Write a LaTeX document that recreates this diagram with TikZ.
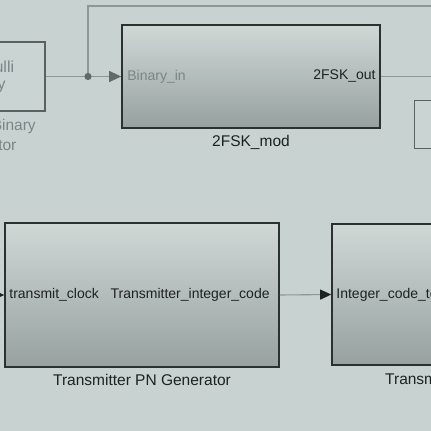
\documentclass[tikz,border=0pt]{standalone}
\usepackage{fontspec}
\setmainfont{Liberation Sans}
\usetikzlibrary{arrows.meta}
\definecolor{bg}{HTML}{C8D2D0}
\definecolor{wire}{HTML}{8C9896}
\definecolor{edge}{HTML}{2B3131}
\definecolor{faded}{HTML}{7A8685}
\definecolor{ink}{HTML}{1E2222}
\definecolor{shtop}{HTML}{D0D8D6}
\definecolor{shmid}{HTML}{C2CBC9}
\definecolor{shbot}{HTML}{96A1A0}
\tikzset{
  blockbox/.style={draw=edge, line width=1.6pt, top color=shtop, middle color=shmid, bottom color=shbot, inner sep=0pt},
  plainbox/.style={draw=#1, line width=1.3pt, fill=bg!96!white, inner sep=0pt},
  portlbl/.style={font=\fontsize{14}{16}\selectfont, inner sep=0pt},
  blocklbl/.style={font=\fontsize{15.5}{18}\selectfont, inner sep=0pt, text=ink},
  wireline/.style={draw=wire, line width=1.1pt},
  tipgray/.style={-{Triangle[length=12pt,width=11pt,fill=faded!80!black,color=faded!80!black]}},
  tipblack/.style={-{Triangle[length=11pt,width=10pt,fill=ink,color=ink]}}
}
\begin{document}
\begin{tikzpicture}[x=1pt,y=-1pt]
\useasboundingbox (0,0) rectangle (431,431);
\fill[bg] (0,0) rectangle (431,431);
\clip (0,0) rectangle (431,431);

% Bernoulli Binary Generator (partly outside)
\node[plainbox=edge!70!bg, minimum width=127pt, minimum height=69pt] (bern) at (-18.5,76.5) {};
\node[portlbl, text=faded, align=center, font=\fontsize{16}{17}\selectfont] (berntxt) at (-17,77) {Bernoulli\\Binary};
\node[blocklbl, text=faded, align=center, font=\fontsize{15.5}{20}\selectfont] (bernlbl) at (-18.5,135) {Bernoulli Binary\\Generator};

% 2FSK modulator
\node[blockbox, minimum width=258pt, minimum height=103pt] (mod) at (251,76.5) {};
\node[portlbl, text=faded, anchor=west] (binin) at ([xshift=6pt]mod.west) {Binary\_in};
\node[portlbl, text=ink, anchor=east] (fskout) at ([xshift=-5pt]mod.east) {2FSK\_out};
\node[blocklbl] (modlbl) at (251,142) {2FSK\_mod};

% right small block (partly outside)
\node[plainbox=edge!70!bg, minimum width=90pt, minimum height=48pt, line width=1pt] (rblk) at (459,124) {};

% Transmitter PN generator
\node[blockbox, minimum width=274pt, minimum height=144pt] (tpn) at (142,295) {};
\node[portlbl, text=ink, anchor=west] (tclk) at ([xshift=5pt]tpn.west) {transmit\_clock};
\node[portlbl, text=ink, anchor=east] (tcode) at ([xshift=-10pt]tpn.east) {Transmitter\_integer\_code};
\node[blocklbl] (tpnlbl) at (142,380) {Transmitter PN Generator};

% right lower block (partly outside)
\node[blockbox, minimum width=240pt, minimum height=141pt] (rx) at (452,294.5) {};
\node[portlbl, text=ink, anchor=west] (icode) at ([xshift=5pt]rx.west) {Integer\_code\_to};
\node[blocklbl, anchor=west] (rxlbl) at (385,379) {Transmitter};

% wires
\coordinate (jn) at (88,76.5);
\coordinate (topl) at (88,6);
\coordinate (topr) at (440,6);
\coordinate (outr) at (440,76.5);
\coordinate (clkin) at (-10,295);
\draw[wireline] (bern.east) -- (jn);
\draw[wireline, tipgray] (jn) -- (mod.west);
\draw[wireline] (jn) -- (topl) -- (topr);
\fill[faded!80!black] (jn) circle (3.6pt);
\draw[wireline] (mod.east) -- (outr);
\draw[wireline, tipblack] (tpn.east) -- (rx.west);
\draw[wireline, draw=ink, tipblack] (clkin) -- (tpn.west);
\end{tikzpicture}
\end{document}
